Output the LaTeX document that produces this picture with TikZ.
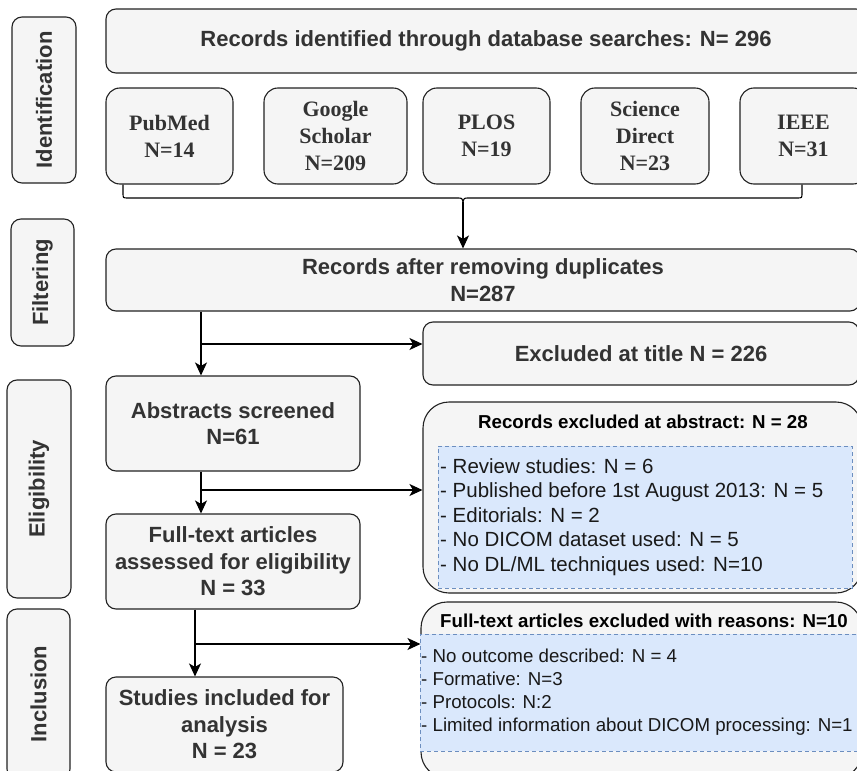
\documentclass[tikz,border=0pt]{standalone}
\usepackage{fontspec}
\setmainfont{Liberation Serif}
\setsansfont{Liberation Sans}
\newfontfamily\arialf{Liberation Sans}
\newfontfamily\timesf{Liberation Serif}
\usetikzlibrary{arrows.meta}
\definecolor{boxfill}{HTML}{F5F5F5}
\definecolor{boxline}{HTML}{222222}
\definecolor{txt}{HTML}{333333}
\definecolor{blfill}{HTML}{DAE8FC}
\definecolor{blline}{HTML}{6C8EBF}
\begin{document}
\begin{tikzpicture}[x=1pt,y=-1pt,
  box/.style={draw=boxline, fill=boxfill, line width=1.1pt, rounded corners=10pt,
    inner sep=0pt, align=center, text=txt,
    font=\arialf\bfseries\fontsize{22}{26.4}\selectfont},
  lbl/.style={box, rotate=90},
  dbbox/.style={box, rounded corners=14pt, minimum height=96pt,
    font=\timesf\bfseries\fontsize{22}{27}\selectfont},
  bigbox/.style={box, rounded corners=26pt},
  subttl/.style={inner sep=0pt, text=black, font=\arialf\bfseries\fontsize{18.7}{22}\selectfont},
  inbox/.style={draw=blline, fill=blfill, line width=0.9pt, dash pattern=on 4pt off 3pt, inner sep=0pt},
  listtxt/.style={inner sep=0pt, anchor=west, align=left, text=black!90},
  arr/.style={draw=black, line width=1.1pt, -{Stealth[length=13pt,width=12pt,inset=3.5pt]}},
  ln/.style={draw=black, line width=1.1pt}
]
\clip (0,0) rectangle (857,771);
\fill[white] (0,0) rectangle (857,771);

% stage labels
\node[lbl, minimum width=166pt, minimum height=64pt] (lid) at (44,100) {Identification};
\node[lbl, minimum width=127pt, minimum height=63pt] (lfi) at (42.5,282.5) {Filtering};
\node[lbl, minimum width=218pt, minimum height=64pt] (lel) at (39,489) {Eligibility};
\node[lbl, minimum width=170pt, minimum height=63pt] (lin) at (38.5,694) {Inclusion};

% top box
\node[box, minimum width=760pt, minimum height=64pt] (top) at (486,41)
  {Records identified through database searches: N= 296};

% database boxes
\node[dbbox, minimum width=127pt] (pub) at (169.5,136) {PubMed\\N=14};
\node[dbbox, minimum width=143pt] (goo) at (335.5,136) {Google\\Scholar\\N=209};
\node[dbbox, minimum width=127pt] (plo) at (486.5,136) {PLOS\\N=19};
\node[dbbox, minimum width=128pt] (sci) at (645,136) {Science\\Direct\\N=23};
\node[dbbox, minimum width=127pt] (iee) at (803.5,136) {IEEE\\N=31};

% brace
\coordinate (bl) at (pub.south -| 123,0);
\coordinate (br) at (iee.south -| 802,0);
\coordinate (tip) at (463,202);
\draw[ln] (bl) -- (123,193) .. controls (123,198) .. (128,198) -- (457,198)
  .. controls (462,198) .. (tip) .. controls (464,198) .. (469,198) -- (797,198)
  .. controls (802,198) .. (802,193) -- (br);

% filtering
\node[box, minimum width=754pt, minimum height=62pt] (dup) at (483,280)
  {Records after removing duplicates\\N=287};
\draw[arr] (tip) -- (tip |- dup.north);

\node[box, minimum width=436pt, minimum height=63pt] (excl) at (641,353.5)
  {Excluded at title N = 226};

% eligibility
\node[box, minimum width=254pt, minimum height=95pt] (abs) at (233,423.5)
  {Abstracts screened\\N=61};
\node[box, minimum width=254pt, minimum height=95pt] (full) at (233,561.5)
  {Full-text articles\\assessed for eligibility\\N = 33};
\node[box, minimum width=237pt, minimum height=95pt] (incl) at (224.5,724.5)
  {Studies included for\\analysis\\N = 23};

\coordinate (b1) at (201,344);
\draw[ln] (dup.south -| b1) -- (b1);
\draw[arr] (b1) -- (abs.north -| b1);
\draw[arr] (b1) -- (b1 -| excl.west);

% excluded at abstract
\node[bigbox, minimum width=439pt, minimum height=191pt] (exA) at (642.5,497.5) {};
\node[subttl] (exAt) at (643,422) {Records excluded at abstract: N = 28};
\node[inbox, minimum width=414pt, minimum height=142pt] (exAi) at (645,517) {};
\node[listtxt, font=\arialf\fontsize{20.5}{24.5}\selectfont] (exAl) at (440,517)
  {- Review studies: N = 6\\- Published before 1st August 2013: N = 5\\- Editorials: N = 2\\- No DICOM dataset used: N = 5\\- No DL/ML techniques used: N=10};

\coordinate (b2) at (201,490);
\draw[ln] (abs.south -| b2) -- (b2);
\draw[arr] (b2) -- (full.north -| b2);
\draw[arr] (b2) -- (b2 -| exA.west);

% excluded full text
\node[bigbox, minimum width=441pt, minimum height=176pt] (exF) at (641.5,690) {};
\node[subttl] (exFt) at (644,621) {Full-text articles excluded with reasons: N=10};
\node[inbox, minimum width=450pt, minimum height=117pt] (exFi) at (645,692.5) {};
\node[listtxt, font=\arialf\fontsize{18.7}{23}\selectfont] (exFl) at (421,692.5)
  {- No outcome described: N = 4\\- Formative: N=3\\- Protocols: N:2\\- Limited information about DICOM processing: N=1};

\coordinate (b3) at (195,644);
\draw[ln] (full.south -| b3) -- (b3);
\draw[arr] (b3) -- (incl.north -| b3);
\draw[arr] (b3) -- (b3 -| exF.west);
\end{tikzpicture}
\end{document}
